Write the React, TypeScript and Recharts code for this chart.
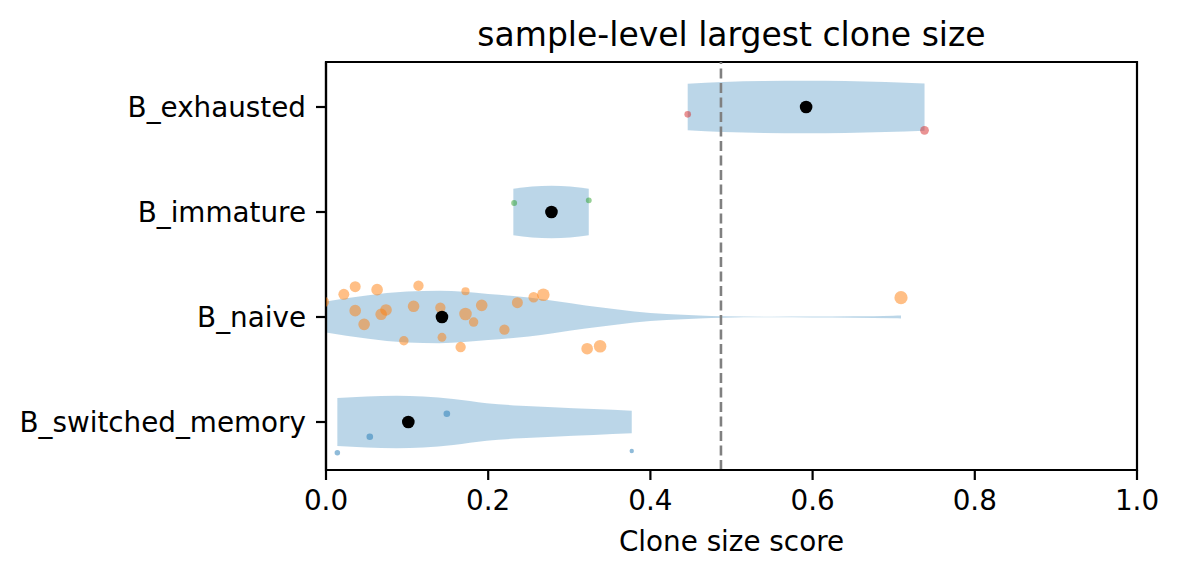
import React from 'react';
import {
  ComposedChart,
  Area,
  Scatter,
  XAxis,
  YAxis,
  ZAxis,
  ReferenceLine,
  ReferenceArea,
} from 'recharts';

// Cell types, top to bottom
const categories = ['B_exhausted', 'B_immature', 'B_naive', 'B_switched_memory'];
const xTicks = [0, 0.2, 0.4, 0.6, 0.8, 1.0];
const thresholdScore = 0.487;

// Kernel density outlines: score grid and half width (in category units)
const exhaustedGrid = [0.446, 0.49, 0.54, 0.592, 0.64, 0.69, 0.738];
const exhaustedHalfWidth = [0.222, 0.238, 0.247, 0.25, 0.247, 0.238, 0.225];
const immatureGrid = [0.231, 0.254, 0.278, 0.301, 0.324];
const immatureHalfWidth = [0.222, 0.243, 0.25, 0.243, 0.222];
const naiveGrid = [-0.003, 0.05, 0.1, 0.14, 0.2, 0.25, 0.28, 0.32, 0.36, 0.38, 0.42, 0.46, 0.49, 0.55, 0.6, 0.65, 0.7, 0.709];
const naiveHalfWidth = [0.145, 0.205, 0.243, 0.25, 0.22, 0.185, 0.155, 0.11, 0.072, 0.052, 0.028, 0.014, 0.006, 0.003, 0.004, 0.007, 0.013, 0.015];
const switchedGrid = [0.014, 0.05, 0.087, 0.12, 0.157, 0.198, 0.24, 0.28, 0.33, 0.377];
const switchedHalfWidth = [0.228, 0.243, 0.25, 0.242, 0.218, 0.178, 0.155, 0.14, 0.123, 0.108];

// Per-sample largest clone score, vertical jitter and cell count
const exhaustedScores = [0.446, 0.738];
const exhaustedJitter = [0.07, 0.222];
const exhaustedCells = [236, 419];
const immatureScores = [0.232, 0.324];
const immatureJitter = [-0.086, -0.111];
const immatureCells = [190, 190];
const naiveScores = [-0.003, 0.022, 0.036, 0.063, 0.114, 0.172, 0.036, 0.047, 0.068, 0.074, 0.108, 0.141, 0.172, 0.192, 0.182, 0.096, 0.143, 0.166, 0.22, 0.236, 0.256, 0.268, 0.322, 0.338, 0.709];
const naiveJitter = [-0.143, -0.216, -0.289, -0.26, -0.298, -0.245, -0.06, 0.07, -0.026, -0.067, -0.102, -0.089, -0.029, -0.111, 0.048, 0.226, 0.193, 0.286, 0.121, -0.136, -0.188, -0.212, 0.302, 0.279, -0.184];
const naiveCells = [654, 654, 654, 735, 578, 358, 735, 735, 735, 735, 735, 578, 850, 735, 484, 484, 419, 578, 578, 654, 578, 850, 735, 850, 942];
const switchedScores = [0.014, 0.054, 0.149, 0.377];
const switchedJitter = [0.292, 0.14, -0.079, 0.276];
const switchedCells = [164, 236, 236, 105];

// Median score per cell type
const medianScores = [0.592, 0.278, 0.143, 0.1015];

const Y_MIN = -0.42857;
const Y_MAX = 3.45714;
const FONT = "'DejaVu Sans', sans-serif";
const VIOLIN = '#1f77b4';

const violinData = (grid: number[], half: number[], pos: number) =>
  grid.map((x, i) => ({ x, band: [pos - half[i], pos + half[i]] }));

const pointData = (scores: number[], jitter: number[], cells: number[], pos: number) =>
  scores.map((x, i) => ({ x, y: pos + jitter[i], z: cells[i] }));

const violins = [
  violinData(exhaustedGrid, exhaustedHalfWidth, 0),
  violinData(immatureGrid, immatureHalfWidth, 1),
  violinData(naiveGrid, naiveHalfWidth, 2),
  violinData(switchedGrid, switchedHalfWidth, 3),
];

const pointSets = [
  { color: '#d62728', data: pointData(exhaustedScores, exhaustedJitter, exhaustedCells, 0) },
  { color: '#2ca02c', data: pointData(immatureScores, immatureJitter, immatureCells, 1) },
  { color: '#ff7f0e', data: pointData(naiveScores, naiveJitter, naiveCells, 2) },
  { color: '#1f77b4', data: pointData(switchedScores, switchedJitter, switchedCells, 3) },
];

const medianData = medianScores.map((x, i) => ({ x, y: i, z: 1 }));

export default function App() {
  return (
    <div style={{ position: 'absolute', left: 0, top: 0, width: 1179, height: 578, background: '#fff' }}>
      <svg width={1179} height={62} style={{ position: 'absolute', left: 0, top: 0 }}>
        <text x={731.5} y={45.5} textAnchor="middle" fontFamily={FONT} fontSize={33} fill="#000">
          sample-level largest clone size
        </text>
      </svg>
      <ComposedChart
        width={1179}
        height={578}
        margin={{ top: 62, right: 42, bottom: 0, left: 0 }}
        style={{ position: 'absolute', left: 0, top: 0, fontFamily: FONT }}
      >
        <XAxis
          dataKey="x"
          type="number"
          domain={[0, 1]}
          ticks={xTicks}
          allowDataOverflow
          height={108}
          tickFormatter={(v: number) => v.toFixed(1)}
          tick={{ fill: '#000', fontSize: 27.8, fontFamily: FONT }}
          tickSize={10}
          tickMargin={10}
          tickLine={{ stroke: '#000', strokeWidth: 2.2 }}
          axisLine={{ stroke: '#000', strokeWidth: 2.2 }}
          label={{ value: 'Clone size score', position: 'insideBottom', offset: 27, fill: '#000', fontSize: 27.8, fontFamily: FONT }}
        />
        <YAxis
          dataKey="y"
          type="number"
          domain={[Y_MIN, Y_MAX]}
          reversed
          allowDataOverflow
          ticks={[0, 1, 2, 3]}
          width={326}
          tickFormatter={(v: number) => categories[v] ?? ''}
          tick={{ fill: '#000', fontSize: 27.8, fontFamily: FONT }}
          tickSize={10}
          tickMargin={10}
          tickLine={{ stroke: '#000', strokeWidth: 2.2 }}
          axisLine={{ stroke: '#000', strokeWidth: 2.2 }}
        />
        <ZAxis zAxisId="cells" dataKey="z" type="number" domain={[0, 1000]} range={[0, 145]} />
        <ZAxis zAxisId="median" dataKey="z" type="number" domain={[0, 1]} range={[0, 125]} />

        {violins.map((d, i) => (
          <Area
            key={`v${i}`}
            data={d}
            dataKey="band"
            type="monotoneX"
            stroke="none"
            fill={VIOLIN}
            fillOpacity={0.3}
            isAnimationActive={false}
            activeDot={false}
            dot={false}
          />
        ))}

        <ReferenceLine x={0} stroke="#000" strokeWidth={2} strokeDasharray="10 4.5" />
        <ReferenceLine x={thresholdScore} stroke="#808080" strokeWidth={2.6} strokeDasharray="10 4.5" />
        <ReferenceArea x1={0} x2={1} y1={Y_MIN} y2={Y_MAX} fill="none" stroke="#000" strokeWidth={2.2} />

        {pointSets.map((s, i) => (
          <Scatter
            key={`p${i}`}
            data={s.data}
            zAxisId="cells"
            fill={s.color}
            fillOpacity={0.5}
            isAnimationActive={false}
          />
        ))}
        <Scatter data={medianData} zAxisId="median" fill="#000" isAnimationActive={false} />
      </ComposedChart>
    </div>
  );
}
